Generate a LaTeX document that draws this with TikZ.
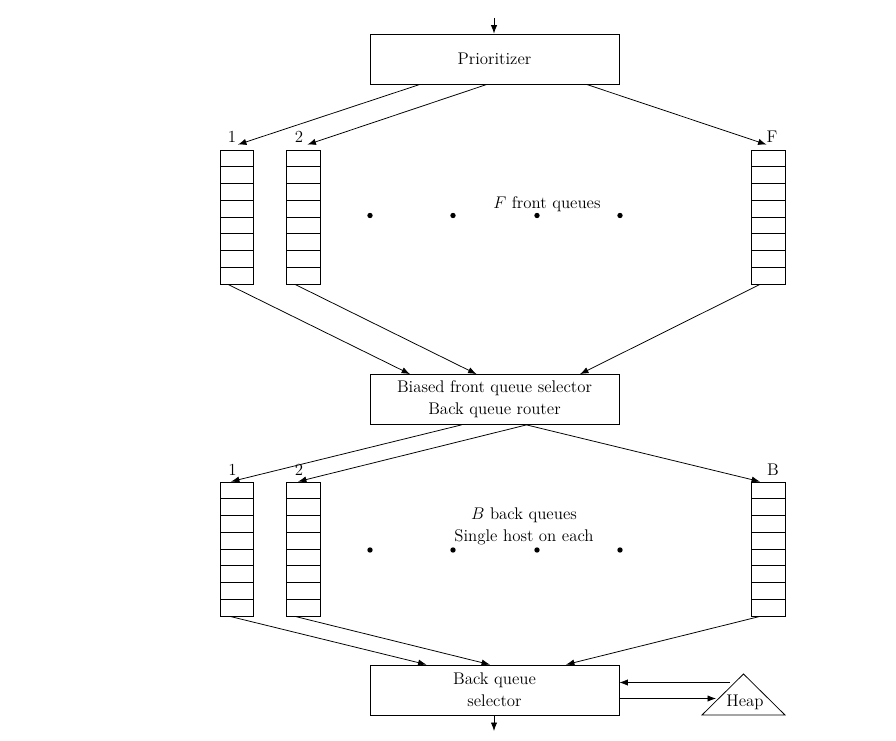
\documentclass[tikz,border=0pt]{standalone}
\usepackage{amsmath}
\usetikzlibrary{calc,arrows.meta}

\begin{document}
\begin{tikzpicture}[x=0.025cm,y=-0.025cm,line width=0.55pt,
    font=\fontsize{12}{15.6}\selectfont,
    >={Latex[length=6pt,width=4.5pt]}]

      \useasboundingbox (0,0) rectangle (896,741);

      % boxes
      \begin{scope}[every node/.style={draw,rectangle,align=center,
          minimum width=6.225cm,minimum height=1.25cm}]
        \node (prio) at (494.5,59)    {Prioritizer};
        \node (sel)  at (494.5,399.5) {Biased front queue selector\\Back queue router};
        \node (back) at (494.5,690)   {Back queue\\selector};
      \end{scope}

      % queues
      \begin{scope}[every node/.style={draw,rectangle,inner sep=0pt,
          minimum width=0.84cm,minimum height=3.35cm}]
        \foreach \name/\x/\y in {f1/237/150, f2/303.5/150, fF/768.5/150,
                                 b1/237/482, b2/303.5/482, bB/768.5/482} {
          \node (\name) at (\x,\y+67) {};
          \foreach \k in {1,...,7}
            \draw (\x-16.8,\y+\k*16.75) -- (\x+16.8,\y+\k*16.75);
        }
      \end{scope}

      % queue numbers
      \node (lf1) at (232,137) {1};
      \node (lf2) at (299,137) {2};
      \node (lfF) at (772,137) {F};
      \node (lb1) at (232.5,470) {1};
      \node (lb2) at (299,470)   {2};
      \node (lbB) at (773,470)   {B};

      % dots and texts
      \foreach \x in {370,453,537,620} {
        \fill (\x,215.5) circle (1.9pt);
        \fill (\x,550) circle (1.9pt);
      }
      \node (ftext) at (547,204) {$F$ front queues};
      \node[align=center] (btext) at (524,526) {$B$ back queues\\Single host on each};

      % heap
      \node (heap) at (745,702) {Heap};
      \draw (702,715) -- (743.5,674) -- (785,715) -- cycle;
      \coordinate (heapout) at (730,682.5);
      \coordinate (heapin)  at (716,698.5);

      \coordinate (in)  at (494,18);
      \coordinate (out) at (494,731);

      % connectors
      \draw[->] (in) -- (in |- prio.north);
      \draw[->] ($(prio.south)+(-74.5,0)$) -- ($(f1.north)+(1,-5)$);
      \draw[->] ($(prio.south)+(-7.5,0)$)  -- ($(f2.north)+(4,-5)$);
      \draw[->] ($(prio.south)+(92,0)$)    -- ($(fF.north)+(-2,-5)$);

      \draw[->] ($(f1.south)+(-9,0)$)   -- ($(sel.north)+(-84.5,0)$);
      \draw[->] ($(f2.south)+(-8.5,0)$) -- ($(sel.north)+(-18,0)$);
      \draw[->] ($(fF.south)+(-8.5,0)$) -- ($(sel.north)+(85.5,0)$);

      \draw[->] ($(sel.south)+(-33,0)$) -- ($(b1.north)+(-6,0)$);
      \draw[->] ($(sel.south)+(32,0)$)  -- ($(b2.north)+(-5.5,0)$);
      \draw[->] ($(sel.south)+(32,0)$)  -- ($(bB.north)+(-8.5,0)$);

      \draw[->] ($(b1.south)+(-7,0)$)   -- ($(back.north)+(-68,0)$);
      \draw[->] ($(b2.south)+(-8.5,0)$) -- ($(back.north)+(-4.5,0)$);
      \draw[->] ($(bB.south)+(-8.5,0)$) -- ($(back.north)+(71.5,0)$);

      \draw[->] (heapout) -- (heapout -| back.east);
      \draw[->] (back.east |- heapin) -- (heapin);
      \draw[->] (back.south -| out) -- (out);

    \end{tikzpicture}
\end{document}
